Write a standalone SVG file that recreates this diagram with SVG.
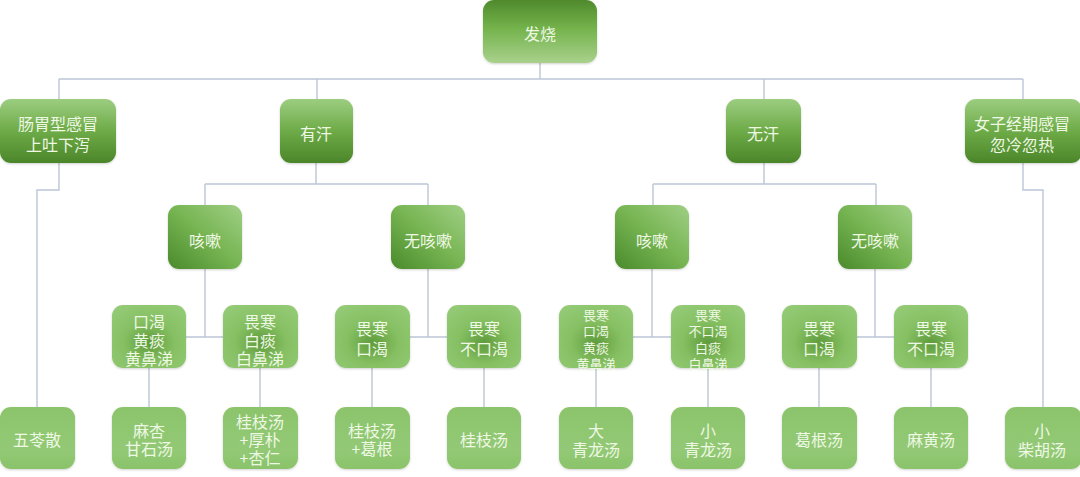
<svg xmlns="http://www.w3.org/2000/svg" width="1080" height="477" viewBox="0 0 1080 477">
<defs>
<linearGradient id="gTop" x1="0" y1="0" x2="0" y2="1"><stop offset="0" stop-color="#4f8a2c"/><stop offset="0.45" stop-color="#74b34c"/><stop offset="1" stop-color="#a9d18c"/></linearGradient>
<linearGradient id="gL1" x1="0" y1="0" x2="0" y2="1"><stop offset="0" stop-color="#9ccd80"/><stop offset="0.5" stop-color="#6eab48"/><stop offset="1" stop-color="#4b8629"/></linearGradient>
<linearGradient id="gL2" x1="1" y1="0" x2="0" y2="1"><stop offset="0" stop-color="#9fcf84"/><stop offset="0.5" stop-color="#76b452"/><stop offset="1" stop-color="#4a8a2b"/></linearGradient>
<radialGradient id="gL3" cx="0.5" cy="0.6" r="0.7"><stop offset="0" stop-color="#5f9c3c"/><stop offset="0.5" stop-color="#86c063"/><stop offset="1" stop-color="#94ca76"/></radialGradient>
<linearGradient id="gL4" x1="0" y1="0" x2="0" y2="1"><stop offset="0" stop-color="#8cc46c"/><stop offset="0.7" stop-color="#93c975"/><stop offset="1" stop-color="#8ac36a"/></linearGradient>
<filter id="sh" x="-10%" y="-10%" width="120%" height="130%"><feDropShadow dx="0" dy="1" stdDeviation="1.2" flood-color="#000" flood-opacity="0.18"/></filter>
</defs>
<style>
.c{fill:none;stroke:#bcc6d8;stroke-width:1.4}
.n rect{filter:url(#sh)}
.t{font-family:"Noto Sans CJK SC","Liberation Sans",sans-serif;font-size:16px;fill:#eef8e4;text-anchor:middle;dominant-baseline:central}
.s{font-size:13px}
</style>
<rect width="1080" height="477" fill="#ffffff"/>
<g id="connectors">
<path class="c" d="M540 63V79M59 79H1023M59 79V99M317 79V99M764 79V99M1023 79V99"/>
<path class="c" d="M59 163V190H37V407M1023 163V190H1043V407"/>
<path class="c" d="M316 163V184M205 184H428M205 184V205M428 184V205"/>
<path class="c" d="M764 163V184M653 184H876M653 184V205M876 184V205"/>
<path class="c" d="M205 269V337M186 337H223M428 269V337M409 337H447M652 269V337M633 337H671M875 269V337M857 337H894"/>
<path class="c" d="M149 368V407M260 368V407M372 368V407M484 368V407M596 368V407M708 368V407M819 368V407M931 368V407"/>
</g>
<g id="n0" class="n"><rect x="483" y="0" width="114" height="63" rx="11" fill="url(#gTop)"/><text class="t" x="540" y="33">发烧</text></g>
<g id="n1" class="n"><rect x="0" y="99" width="116" height="64" rx="11" fill="url(#gL1)"/><text class="t" x="58" y="123">肠胃型感冒</text><text class="t" x="58" y="144">上吐下泻</text></g>
<g id="n2" class="n"><rect x="280" y="99" width="73" height="64" rx="11" fill="url(#gL1)"/><text class="t" x="316" y="133">有汗</text></g>
<g id="n3" class="n"><rect x="726" y="99" width="75" height="64" rx="11" fill="url(#gL1)"/><text class="t" x="763" y="133">无汗</text></g>
<g id="n4" class="n"><rect x="965" y="99" width="117" height="64" rx="11" fill="url(#gL1)"/><text class="t" x="1022" y="123">女子经期感冒</text><text class="t" x="1022" y="144">忽冷忽热</text></g>
<g id="n5" class="n"><rect x="168" y="205" width="74" height="64" rx="11" fill="url(#gL2)"/><text class="t" x="205" y="240">咳嗽</text></g>
<g id="n6" class="n"><rect x="391" y="205" width="74" height="64" rx="11" fill="url(#gL2)"/><text class="t" x="428" y="240">无咳嗽</text></g>
<g id="n7" class="n"><rect x="615" y="205" width="74" height="64" rx="11" fill="url(#gL2)"/><text class="t" x="652" y="240">咳嗽</text></g>
<g id="n8" class="n"><rect x="838" y="205" width="74" height="64" rx="11" fill="url(#gL2)"/><text class="t" x="875" y="240">无咳嗽</text></g>
<g id="n9" class="n"><rect x="112" y="305" width="74" height="63" rx="11" fill="url(#gL3)"/><text class="t" x="149" y="321">口渴</text><text class="t" x="149" y="340">黄痰</text><text class="t" x="149" y="358">黄鼻涕</text></g>
<g id="n10" class="n"><rect x="223" y="305" width="75" height="63" rx="11" fill="url(#gL3)"/><text class="t" x="260" y="321">畏寒</text><text class="t" x="260" y="340">白痰</text><text class="t" x="260" y="358">白鼻涕</text></g>
<g id="n11" class="n"><rect x="335" y="305" width="75" height="63" rx="11" fill="url(#gL3)"/><text class="t" x="372" y="328">畏寒</text><text class="t" x="372" y="348">口渴</text></g>
<g id="n12" class="n"><rect x="447" y="305" width="74" height="63" rx="11" fill="url(#gL3)"/><text class="t" x="484" y="328">畏寒</text><text class="t" x="484" y="348">不口渴</text></g>
<g id="n13" class="n"><rect x="559" y="305" width="74" height="63" rx="11" fill="url(#gL3)"/><text class="t s" x="596" y="314">畏寒</text><text class="t s" x="596" y="330.5">口渴</text><text class="t s" x="596" y="347">黄痰</text><text class="t s" x="596" y="363.5">黄鼻涕</text></g>
<g id="n14" class="n"><rect x="671" y="305" width="74" height="63" rx="11" fill="url(#gL3)"/><text class="t s" x="708" y="314">畏寒</text><text class="t s" x="708" y="330.5">不口渴</text><text class="t s" x="708" y="347">白痰</text><text class="t s" x="708" y="363.5">白鼻涕</text></g>
<g id="n15" class="n"><rect x="782" y="305" width="75" height="63" rx="11" fill="url(#gL3)"/><text class="t" x="819" y="328">畏寒</text><text class="t" x="819" y="348">口渴</text></g>
<g id="n16" class="n"><rect x="894" y="305" width="74" height="63" rx="11" fill="url(#gL3)"/><text class="t" x="931" y="328">畏寒</text><text class="t" x="931" y="348">不口渴</text></g>
<g id="n17" class="n"><rect x="0" y="407" width="75" height="62" rx="11" fill="url(#gL4)"/><text class="t" x="37" y="439">五苓散</text></g>
<g id="n18" class="n"><rect x="112" y="407" width="74" height="62" rx="11" fill="url(#gL4)"/><text class="t" x="149" y="430">麻杏</text><text class="t" x="149" y="448">甘石汤</text></g>
<g id="n19" class="n"><rect x="223" y="407" width="75" height="62" rx="11" fill="url(#gL4)"/><text class="t" x="260" y="421">桂枝汤</text><text class="t" x="260" y="439">+厚朴</text><text class="t" x="260" y="457">+杏仁</text></g>
<g id="n20" class="n"><rect x="335" y="407" width="75" height="62" rx="11" fill="url(#gL4)"/><text class="t" x="372" y="430">桂枝汤</text><text class="t" x="372" y="448">+葛根</text></g>
<g id="n21" class="n"><rect x="447" y="407" width="74" height="62" rx="11" fill="url(#gL4)"/><text class="t" x="484" y="439">桂枝汤</text></g>
<g id="n22" class="n"><rect x="559" y="407" width="74" height="62" rx="11" fill="url(#gL4)"/><text class="t" x="596" y="430">大</text><text class="t" x="596" y="449">青龙汤</text></g>
<g id="n23" class="n"><rect x="671" y="407" width="74" height="62" rx="11" fill="url(#gL4)"/><text class="t" x="708" y="430">小</text><text class="t" x="708" y="449">青龙汤</text></g>
<g id="n24" class="n"><rect x="782" y="407" width="75" height="62" rx="11" fill="url(#gL4)"/><text class="t" x="819" y="439">葛根汤</text></g>
<g id="n25" class="n"><rect x="894" y="407" width="74" height="62" rx="11" fill="url(#gL4)"/><text class="t" x="931" y="439">麻黄汤</text></g>
<g id="n26" class="n"><rect x="1005" y="407" width="77" height="62" rx="11" fill="url(#gL4)"/><text class="t" x="1042" y="430">小</text><text class="t" x="1042" y="449">柴胡汤</text></g>
</svg>
